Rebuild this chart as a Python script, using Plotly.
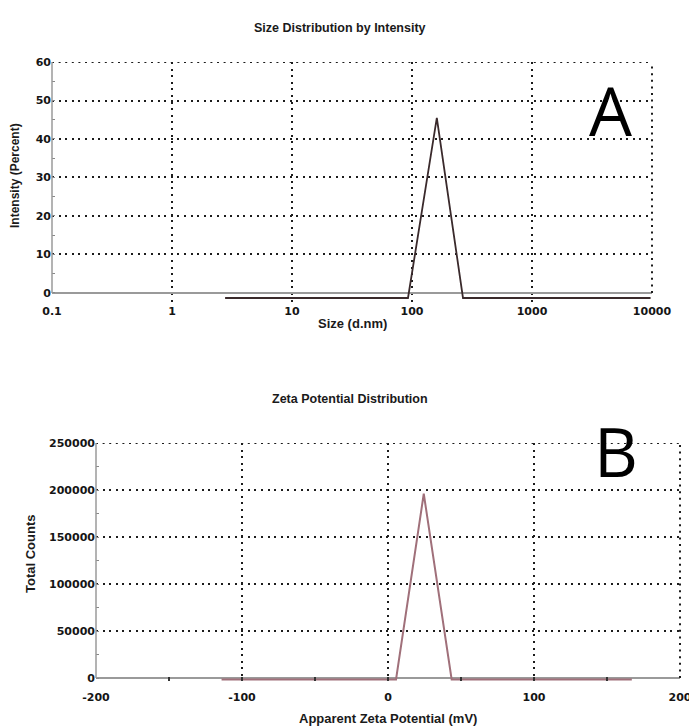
import plotly.graph_objects as go

# Panel A: size distribution by intensity (DLS)
size_nm = [2.77, 92.6, 161, 266, 9730]
intensity_pct = [-1.3, -1.3, 45.5, -1.3, -1.3]
size_ticks = [0.1, 1, 10, 100, 1000, 10000]
size_tick_text = ["0.1", "1", "10", "100", "1000", "10000"]
intensity_ticks = [0, 10, 20, 30, 40, 50, 60]

# Panel B: zeta potential distribution
zeta_mv = [-114, 5.5, 24.5, 43.6, 167]
total_counts = [-1500, -1500, 196000, -1500, -1500]
zeta_ticks = [-200, -100, 0, 100, 200]
zeta_tick_text = ["-200", "-100", "0", "100", "200"]
count_ticks = [0, 50000, 100000, 150000, 200000, 250000]
count_tick_text = [str(v) for v in count_ticks]

W, H = 689, 728
TICK_FONT = dict(family="DejaVu Sans", size=11, color="#151515", weight="bold")
TITLE_FONT = dict(family="Liberation Sans", size=12.5, color="#1a1a1a", weight="bold")
AXIS_TITLE_FONT = dict(family="Liberation Sans", size=13, color="#1a1a1a", weight="bold")
DOT = "2px,4.6px"
GRID_COLOR = "#1c1c1c"
GRID = dict(showgrid=True, gridcolor=GRID_COLOR, gridwidth=2, griddash=DOT)


def px_x(p):
    return p / W


def px_y(p):
    return 1 - p / H


fig = go.Figure()

fig.add_trace(go.Scatter(
    x=size_nm, y=intensity_pct, mode="lines",
    line=dict(color="#3a2a2c", width=1.8),
    xaxis="x", yaxis="y", showlegend=False, hoverinfo="x+y",
))
fig.add_trace(go.Scatter(
    x=zeta_mv, y=total_counts, mode="lines",
    line=dict(color="#a0707a", width=2),
    xaxis="x2", yaxis="y2", showlegend=False, hoverinfo="x+y",
))

fig.update_layout(
    width=W, height=H,
    margin=dict(l=0, r=0, t=0, b=0),
    paper_bgcolor="white", plot_bgcolor="white",
    xaxis=dict(
        type="log", range=[-1, 4], domain=[px_x(52), px_x(652)],
        anchor="y", tickvals=size_ticks, ticktext=size_tick_text,
        tickfont=TICK_FONT, ticks="", showline=False, zeroline=False,
        ticklabeloverflow="allow", automargin=False, **GRID,
    ),
    yaxis=dict(
        range=[-2.5, 60], domain=[px_y(302.6), px_y(62)],
        anchor="x", tickvals=intensity_ticks, tickfont=TICK_FONT,
        ticks="inside", ticklen=3, tickcolor="#888", tickwidth=1,
        minor=dict(dtick=5, ticks="inside", ticklen=3, tickcolor="#888", showgrid=False),
        showline=False, zeroline=True, zerolinecolor="#9a9a9a", zerolinewidth=1.5,
        automargin=False, **GRID,
    ),
    xaxis2=dict(
        range=[-200, 200], domain=[px_x(96), px_x(680)],
        anchor="y2", tickvals=zeta_ticks, ticktext=zeta_tick_text, tickfont=TICK_FONT,
        ticks="inside", ticklen=4, tickcolor="#333", tickwidth=1.5,
        ticklabelstandoff=8, ticklabeloverflow="allow",
        minor=dict(dtick=50, ticks="inside", ticklen=4, tickcolor="#333", showgrid=False),
        showline=False, zeroline=False, automargin=False, **GRID,
    ),
    yaxis2=dict(
        range=[-3500, 250000], domain=[px_y(681.3), px_y(443)],
        anchor="x2", tickvals=count_ticks, ticktext=count_tick_text, tickfont=TICK_FONT,
        ticks="inside", ticklen=3, tickcolor="#888", tickwidth=1,
        minor=dict(dtick=25000, ticks="inside", ticklen=3, tickcolor="#888", showgrid=False),
        showline=False, zeroline=True, zerolinecolor="#9a9a9a", zerolinewidth=1.5,
        automargin=False, **GRID,
    ),
)

# dotted frame along the top and right edges of both panels
for xa, ya, ytop in (("x", "y", intensity_ticks[-1]), ("x2", "y2", count_ticks[-1])):
    fig.add_shape(type="line", xref=f"{xa} domain", yref=ya, x0=0, x1=1,
                  y0=ytop, y1=ytop, line=dict(color=GRID_COLOR, width=2, dash=DOT))
    fig.add_shape(type="line", xref=f"{xa} domain", yref=ya, x0=1, x1=1,
                  y0=0, y1=ytop, line=dict(color=GRID_COLOR, width=2, dash=DOT))
    # solid grey value axis running from zero to the top of the panel
    fig.add_shape(type="line", xref=f"{xa} domain", yref=ya, x0=0, x1=0,
                  y0=0, y1=ytop, line=dict(color="#9a9a9a", width=1.5))

annotations = [
    dict(text="Size Distribution by Intensity", x=px_x(340), y=px_y(28), font=TITLE_FONT),
    dict(text="Size (d.nm)", x=px_x(352), y=px_y(323), font=AXIS_TITLE_FONT),
    dict(text="Intensity (Percent)", x=px_x(15), y=px_y(176), font=dict(AXIS_TITLE_FONT, size=12), textangle=-90),
    dict(text="Zeta Potential Distribution", x=px_x(350), y=px_y(399), font=TITLE_FONT),
    dict(text="Apparent Zeta Potential (mV)", x=px_x(388), y=px_y(718), font=AXIS_TITLE_FONT),
    dict(text="Total Counts", x=px_x(30), y=px_y(554), font=AXIS_TITLE_FONT, textangle=-90),
    dict(text="A", x=px_x(610), y=px_y(109), font=dict(family="Open Sans", size=68, color="black")),
    dict(text="B", x=px_x(616), y=px_y(450), font=dict(family="Open Sans", size=68, color="black")),
]
for a in annotations:
    fig.add_annotation(xref="paper", yref="paper", showarrow=False,
                       xanchor="center", yanchor="middle", **a)

fig.write_html("out.html")
